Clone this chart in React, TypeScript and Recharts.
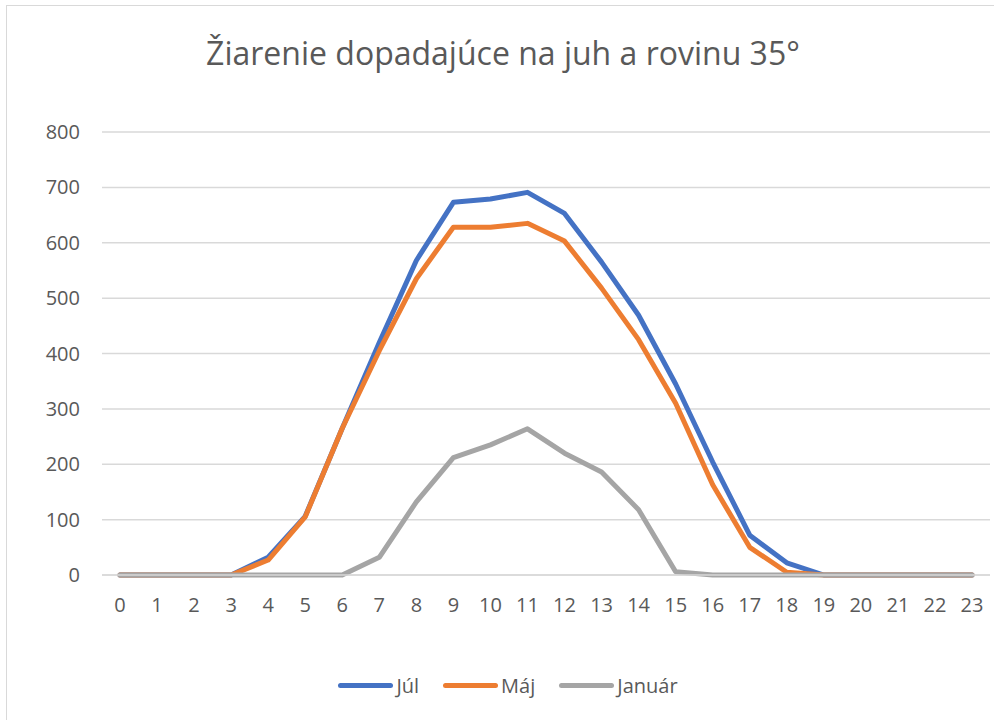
import { CartesianGrid, Line, LineChart, XAxis, YAxis } from 'recharts';

const hours = ['0', '1', '2', '3', '4', '5', '6', '7', '8', '9', '10', '11', '12', '13', '14', '15', '16', '17', '18', '19', '20', '21', '22', '23'];
const jul = [0, 0, 0, 0, 32, 106, 265, 420, 568, 673, 679, 691, 653, 565, 469, 345, 204, 72, 22, 0, 0, 0, 0, 0];
const maj = [0, 0, 0, 0, 27, 105, 265, 405, 535, 628, 628, 635, 603, 518, 425, 310, 163, 50, 5, 0, 0, 0, 0, 0];
const januar = [0, 0, 0, 0, 0, 0, 0, 32, 132, 212, 235, 264, 220, 186, 118, 6, 0, 0, 0, 0, 0, 0, 0, 0];
const yTicks = [0, 100, 200, 300, 400, 500, 600, 700, 800];

const series = [
  { key: 'jul', name: 'Júl', color: '#4472C4' },
  { key: 'maj', name: 'Máj', color: '#ED7D31' },
  { key: 'januar', name: 'Január', color: '#A5A5A5' }
];

const data = hours.map((hour, i) => ({ hour, jul: jul[i], maj: maj[i], januar: januar[i] }));

const font = '"Open Sans", "Liberation Sans", sans-serif';
const textColor = '#595959';

function ChartLegend() {
  return (
    <div style={{ display: 'flex', justifyContent: 'center', gap: 24, fontFamily: font, fontSize: 20, color: textColor }}>
      {series.map((s) => (
        <div key={s.key} style={{ display: 'flex', alignItems: 'center', gap: 3 }}>
          <span style={{ display: 'inline-block', width: 55, height: 5, borderRadius: 3, background: s.color }} />
          <span>{s.name}</span>
        </div>
      ))}
    </div>
  );
}

export default function App() {
  return (
    <div style={{ position: 'fixed', left: 0, top: 0, width: 994, height: 720, overflow: 'hidden', background: '#fff' }}>
      <div style={{ position: 'absolute', left: 6, top: 5, width: 1000, height: 730, border: '1.5px solid #d9d9d9' }} />
      <div style={{ position: 'absolute', left: 0, width: 1006, top: 31, textAlign: 'center', fontFamily: font, fontSize: 32, color: textColor }}>
        Žiarenie dopadajúce na juh a rovinu 35°
      </div>
      <LineChart width={994} height={720} data={data} margin={{ top: 132, right: 4, bottom: 0, left: 0 }} style={{ position: 'absolute', left: 0, top: 0 }}>
        <CartesianGrid vertical={false} stroke="#d9d9d9" strokeWidth={1.5} />
        <XAxis
          dataKey="hour"
          interval={0}
          padding={{ left: 18, right: 18 }}
          height={145}
          tickLine={false}
          tickSize={0}
          tickMargin={23}
          axisLine={{ stroke: '#d9d9d9', strokeWidth: 1.5 }}
          tick={{ fill: textColor, fontSize: 20, fontFamily: font }}
        />
        <YAxis
          domain={[0, 800]}
          ticks={yTicks}
          width={102}
          tickLine={false}
          axisLine={false}
          tickSize={0}
          tickMargin={22}
          tick={{ fill: textColor, fontSize: 20, fontFamily: font }}
        />
        {series.map((s) => (
          <Line
            key={s.key}
            dataKey={s.key}
            name={s.name}
            type="linear"
            stroke={s.color}
            strokeWidth={5}
            strokeLinejoin="round"
            strokeLinecap="round"
            dot={false}
            activeDot={false}
            isAnimationActive={false}
          />
        ))}
      </LineChart>
      <div style={{ position: 'absolute', top: 672, left: 0, width: 1016 }}>
        <ChartLegend />
      </div>
    </div>
  );
}
